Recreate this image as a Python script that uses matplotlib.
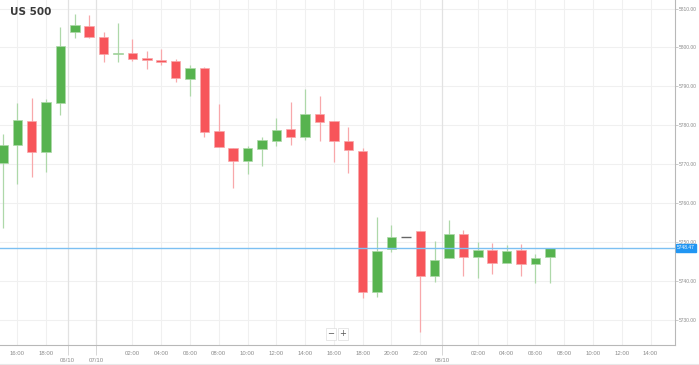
import matplotlib
matplotlib.use("Agg")
import matplotlib.pyplot as plt
from matplotlib.transforms import blended_transform_factory

# hourly candles, US 500
opens = [5770.3, 5774.9, 5781.1, 5773.1, 5785.7, 5803.9, 5805.5, 5802.7, 5798.3, 5798.5,
         5797.3, 5796.7, 5796.5, 5791.9, 5794.7, 5778.5, 5774.1, 5770.8, 5773.9, 5775.9,
         5779.0, 5776.9, 5782.9, 5781.1, 5775.9, 5773.3, 5737.1, 5748.2, 5751.2, 5752.8,
         5741.2, 5745.8, 5752.0, 5746.1, 5747.9, 5744.6, 5747.9, 5744.3, 5746.1]
highs = [5777.7, 5785.7, 5787.0, 5786.7, 5805.2, 5808.6, 5808.3, 5803.9, 5806.2, 5802.1,
         5799.0, 5799.6, 5797.0, 5795.5, 5795.0, 5785.4, 5774.1, 5774.6, 5776.9, 5781.8,
         5785.9, 5789.3, 5787.5, 5781.1, 5779.5, 5774.1, 5756.4, 5754.3, 5751.2, 5752.8,
         5750.2, 5755.6, 5753.0, 5750.0, 5749.7, 5749.2, 5749.4, 5746.9, 5748.5]
lows = [5753.6, 5764.9, 5766.7, 5767.9, 5782.6, 5802.4, 5802.4, 5796.2, 5796.2, 5796.5,
        5794.4, 5795.5, 5791.1, 5787.5, 5776.9, 5774.4, 5763.8, 5767.4, 5769.5, 5774.6,
        5774.9, 5776.2, 5775.9, 5770.5, 5767.7, 5735.6, 5735.8, 5747.4, 5751.2, 5726.8,
        5739.7, 5745.8, 5741.2, 5740.7, 5741.7, 5744.6, 5741.2, 5739.4, 5739.4]
closes = [5774.9, 5781.3, 5773.1, 5785.9, 5800.3, 5805.7, 5802.7, 5798.3, 5798.5, 5797.0,
          5796.7, 5796.2, 5792.1, 5794.7, 5778.2, 5774.4, 5770.8, 5774.1, 5776.2, 5778.7,
          5776.9, 5782.9, 5780.8, 5775.9, 5773.6, 5737.1, 5747.6, 5751.2, 5751.2, 5741.2,
          5745.3, 5752.0, 5746.1, 5747.9, 5744.6, 5747.6, 5744.3, 5745.8, 5748.47]
current_price = 5748.47

time_pos = [1, 3, 9, 11, 13, 15, 17, 19, 21, 23, 25, 27, 29, 33, 35, 37, 39, 41, 43, 45]
time_labels = ["16:00", "18:00", "02:00", "04:00", "06:00", "08:00", "10:00", "12:00",
               "14:00", "16:00", "18:00", "20:00", "22:00", "02:00", "04:00", "06:00",
               "08:00", "10:00", "12:00", "14:00"]
date_pos = [4.5, 6.5, 30.5]
date_labels = ["06/10", "07/10", "08/10"]
price_ticks = [5730, 5740, 5750, 5760, 5770, 5780, 5790, 5800, 5810]

green, red = "#57b34f", "#f7555a"
green_wick, red_wick = "#aed8a9", "#f8a8ab"
grey_txt = "#8a8a8a"
small_font = "Liberation Sans"

fig = plt.figure(figsize=(6.99, 3.65), dpi=100)
ax = fig.add_axes([0, 20 / 365, 675 / 699, 345 / 365])

for i in range(len(opens)):
    o, h, l, c = opens[i], highs[i], lows[i], closes[i]
    if abs(c - o) < 0.05:
        ax.hlines(o, i - 0.33, i + 0.33, color="#666666", lw=1.0, zorder=3)
        continue
    up = c > o
    body_c = green if up else red
    wick_c = green_wick if up else red_wick
    ax.vlines(i, l, h, color=wick_c, lw=0.9, zorder=2)
    ax.bar(i, max(abs(c - o), 0.3), bottom=min(o, c), width=0.66, color=body_c,
           edgecolor=wick_c, linewidth=0.5, zorder=3)

ax.axhline(current_price, color="#7cc0f2", lw=1.0, zorder=4)

ax.set_xlim(-0.2, 46.7)
ax.set_ylim(5723.5, 5812.2)

# grid
for y in price_ticks:
    ax.axhline(y, color="#f0f0f0", lw=0.8, zorder=0)
for x in time_pos:
    ax.axvline(x, color="#f0f0f0", lw=0.8, zorder=0)
for x in date_pos:
    ax.axvline(x, color="#e2e2e2", lw=0.9, zorder=0)

for s in ["left", "top"]:
    ax.spines[s].set_visible(False)
for s in ["right", "bottom"]:
    ax.spines[s].set_color("#b8b8b8")
    ax.spines[s].set_linewidth(0.8)

ax.yaxis.tick_right()
ax.set_yticks(price_ticks)
ax.set_yticklabels([f"{p:.2f}" for p in price_ticks], fontfamily=small_font)
ax.tick_params(axis="y", length=2, width=0.5, color="#b8b8b8", pad=1,
               labelsize=3.5, labelcolor=grey_txt)

ax.set_xticks(time_pos)
ax.set_xticklabels(time_labels, fontfamily=small_font)
ax.set_xticks(date_pos, minor=True)
ax.set_xticklabels(date_labels, minor=True, fontfamily=small_font)
ax.tick_params(axis="x", which="major", length=0, pad=4,
               labelsize=4.3, labelcolor=grey_txt)
ax.tick_params(axis="x", which="minor", length=7, width=0.6, color="#d0d0d0",
               pad=2, labelsize=4.3, labelcolor=grey_txt)
for t in ax.xaxis.get_minorticklines():
    t.set_linestyle((0, (1, 1)))

# current price tag
tr = blended_transform_factory(ax.transAxes, ax.transData)
ax.text(1.003, current_price, f"{current_price:.2f}", transform=tr, ha="left",
        va="center", fontsize=3.5, fontfamily=small_font, color="white",
        clip_on=False, zorder=6,
        bbox=dict(boxstyle="square,pad=0.25", fc="#2196f3", ec="#2196f3"))

fig.text(10 / 699, 1 - 12 / 365, "US 500", fontsize=7.5, fontweight="bold",
         color="#3a3a3a", va="center", ha="left")

# zoom buttons
for xp, s in [(331, "\u2212"), (343, "+")]:
    fig.text(xp / 699, 1 - 334 / 365, s, fontsize=6, color="#555555",
             ha="center", va="center",
             bbox=dict(boxstyle="square,pad=0.15", fc="white", ec="#dddddd", lw=0.5))

fig.add_artist(plt.Line2D([0, 1], [1.5 / 365, 1.5 / 365], color="#e8e8e8", lw=0.8))

fig.savefig("out.png", dpi=100, facecolor="white")
